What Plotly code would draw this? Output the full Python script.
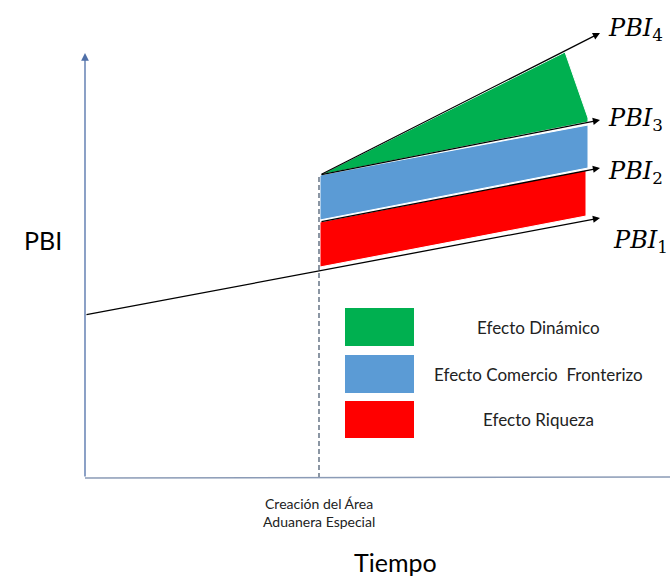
import plotly.graph_objects as go

# ---- data (diagram units: x = time, y = PBI) ----
axis_origin = [85, 99]
y_axis_top = 524
x_axis_end = 670

shock_time = 320
pbi1_x = [85, 600];  pbi1_y = [262, 359]
pbi2_x = [320, 600]; pbi2_y = [355, 409]
pbi3_x = [320, 600]; pbi3_y = [402, 457]
pbi4_x = [320, 600]; pbi4_y = [402, 544]

riqueza_x = [320, 586, 586, 320];   riqueza_y = [310, 361, 407, 355]
comercio_x = [320, 588, 588, 320];  comercio_y = [357, 409, 452, 402]
dinamico_x = [320, 565, 588, 588];  dinamico_y = [402, 525, 459, 455]

legend_labels = ["Efecto Dinámico", "Efecto Comercio  Fronterizo", "Efecto Riqueza"]
legend_colors = ["#00b050", "#5b9bd5", "#ff0000"]
legend_box_y = [[231, 269], [184, 222], [139, 176]]
legend_box_x = [345, 414]
legend_text_x = 538

pbi_labels = ["<i>PBI</i><sub>4</sub>", "<i>PBI</i><sub>3</sub>",
              "<i>PBI</i><sub>2</sub>", "<i>PBI</i><sub>1</sub>"]
pbi_label_pos = [(606, 548), (606, 458), (606, 405), (611, 336)]

fig = go.Figure()

for xs, ys, c in [(riqueza_x, riqueza_y, legend_colors[2]),
                  (comercio_x, comercio_y, legend_colors[1]),
                  (dinamico_x, dinamico_y, legend_colors[0])]:
    fig.add_trace(go.Scatter(x=xs + [xs[0]], y=ys + [ys[0]], mode="lines",
                             fill="toself", fillcolor=c,
                             line=dict(color="white", width=1),
                             hoverinfo="skip", showlegend=False))

# dashed vertical line at shock time
fig.add_trace(go.Scatter(x=[shock_time - 1, shock_time - 1], y=[axis_origin[1], pbi3_y[0]],
                         mode="lines", line=dict(color="#3f5168", width=1.2, dash="5px,3px"),
                         hoverinfo="skip", showlegend=False))

# axes
fig.add_trace(go.Scatter(x=[axis_origin[0], x_axis_end], y=[axis_origin[1], axis_origin[1] + 1],
                         mode="lines", line=dict(color="#8b9bb6", width=1.5),
                         hoverinfo="skip", showlegend=False))
fig.add_annotation(x=axis_origin[0], y=y_axis_top, ax=axis_origin[0], ay=axis_origin[1],
                   xref="x", yref="y", axref="x", ayref="y", text="", showarrow=True,
                   arrowhead=2, arrowsize=1.2, arrowwidth=1.3, arrowcolor="#4f6fa8")

# PBI lines with arrows
for xs, ys in [(pbi1_x, pbi1_y), (pbi2_x, pbi2_y), (pbi3_x, pbi3_y), (pbi4_x, pbi4_y)]:
    fig.add_annotation(x=xs[1], y=ys[1], ax=xs[0], ay=ys[0],
                       xref="x", yref="y", axref="x", ayref="y", text="", showarrow=True,
                       arrowhead=2, arrowsize=1.1, arrowwidth=1.3, arrowcolor="black")

for lab, (lx, ly) in zip(pbi_labels, pbi_label_pos):
    fig.add_annotation(x=lx, y=ly, xref="x", yref="y", text=lab, showarrow=False,
                       xanchor="left", yanchor="middle",
                       font=dict(family="DejaVu Serif", size=24, color="black"))

# legend boxes
for (y0, y1), c, lab in zip(legend_box_y, legend_colors, legend_labels):
    fig.add_shape(type="rect", xref="x", yref="y", x0=legend_box_x[0], x1=legend_box_x[1],
                  y0=y0, y1=y1, fillcolor=c, line=dict(width=0))
    fig.add_annotation(x=legend_text_x, y=(y0 + y1) / 2, xref="x", yref="y", text=lab,
                       showarrow=False, font=dict(family="Lato", size=17, color="#222"))

fig.add_annotation(x=43, y=337, xref="x", yref="y", text="PBI", showarrow=False,
                   font=dict(family="Lato", size=25, color="black"))
fig.add_annotation(x=319, y=65, xref="x", yref="y",
                   text="Creación del Área<br>Aduanera Especial", showarrow=False,
                   font=dict(family="Lato", size=14, color="#222"))
fig.add_annotation(x=395, y=15, xref="x", yref="y", text="Tiempo", showarrow=False,
                   font=dict(family="Lato", size=25, color="black"))

fig.update_layout(width=670, height=577, margin=dict(l=0, r=0, t=0, b=0),
                  paper_bgcolor="white", plot_bgcolor="white",
                  xaxis=dict(range=[0, 670], visible=False, fixedrange=True),
                  yaxis=dict(range=[0, 577], visible=False, fixedrange=True),
                  showlegend=False)

fig.write_html("out.html", config={"displayModeBar": False},
               post_script="document.body.style.margin='0';")
